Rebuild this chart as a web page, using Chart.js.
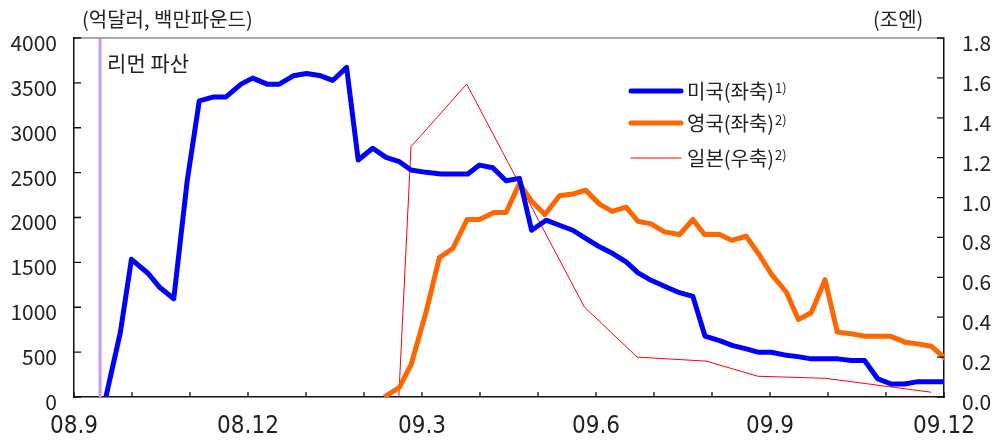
<!DOCTYPE html>
<html>
<head>
<meta charset="utf-8">
<script src="https://cdn.jsdelivr.net/npm/chart.js@4.4.1/dist/chart.umd.min.js"></script>
<style>
  html, body { margin: 0; padding: 0; background: #fff; }
  #wrap { width: 992px; height: 445px; }
</style>
</head>
<body>
<div id="wrap"><canvas id="chart" width="992" height="445"></canvas></div>
<script>
// x values are months counted from 2008.9 (0 = 08.9, 15 = 09.12)
const monthLabels = ['08.9', '08.10', '08.11', '08.12', '09.1', '09.2', '09.3', '09.4',
                     '09.5', '09.6', '09.7', '09.8', '09.9', '09.10', '09.11', '09.12'];
const labelEvery = 3;

// 미국 (억달러, left axis)
const usX = [0.55, 0.80, 0.99, 1.27, 1.47, 1.72, 1.95, 2.16, 2.41, 2.62, 2.88, 3.08, 3.33, 3.54,
             3.78, 4.01, 4.23, 4.46, 4.70, 4.90, 5.15, 5.38, 5.61, 5.81, 6.07, 6.33, 6.56, 6.79,
             6.99, 7.22, 7.45, 7.68, 7.89, 8.14, 8.37, 8.60, 8.83, 9.06, 9.29, 9.52, 9.72, 9.95,
             10.21, 10.44, 10.67, 10.88, 11.13, 11.36, 11.59, 11.79, 12.02, 12.25, 12.48, 12.71,
             12.94, 13.17, 13.40, 13.63, 13.86, 14.09, 14.32, 14.55, 14.78, 15.03];
const usVals = [0, 723, 1534, 1382, 1226, 1095, 2399, 3300, 3344, 3344, 3486, 3553, 3486, 3486,
                3579, 3605, 3583, 3527, 3672, 2640, 2771, 2670, 2622, 2529, 2503, 2484, 2484, 2484,
                2584, 2555, 2410, 2436, 1858, 1970, 1914, 1858, 1765, 1673, 1598, 1505, 1385, 1300,
                1226, 1162, 1121, 678, 629, 573, 536, 499, 499, 469, 450, 425,
                425, 425, 406, 406, 201, 145, 145, 171, 171, 171];

// 영국 (백만파운드, left axis)
const ukX = [5.35, 5.61, 5.81, 6.07, 6.30, 6.53, 6.78, 6.99, 7.24, 7.45, 7.68, 7.89, 8.12, 8.37,
             8.60, 8.82, 9.06, 9.28, 9.52, 9.72, 9.95, 10.18, 10.44, 10.67, 10.87, 11.13, 11.34,
             11.59, 11.82, 12.03, 12.28, 12.49, 12.71, 12.95, 13.16, 13.40, 13.63, 13.86, 14.07,
             14.33, 14.55, 14.78, 15.03];
const ukVals = [0, 108, 357, 946, 1553, 1654, 1978, 1978, 2056, 2056, 2380, 2182, 2034, 2242,
                2261, 2305, 2149, 2068, 2115, 1959, 1929, 1840, 1810, 1978, 1810, 1810, 1746,
                1791, 1579, 1363, 1170, 864, 939, 1307, 723, 704, 678, 678, 678,
                611, 592, 566, 425];

// 일본 (조엔, right axis)
const jpX = [5.60, 5.81, 6.77, 8.80, 9.71, 10.90, 11.79, 12.95, 14.78];
const jpVals = [0, 1.255, 1.569, 0.451, 0.200, 0.180, 0.104, 0.094, 0.024];

const lehmanX = 0.45;
const seriesLabels = ['미국(좌축)', '영국(좌축)', '일본(우축)'];
const seriesNotes = ['1)', '2)', '2)'];

const KR = '"Noto Sans CJK KR", "Noto Sans", sans-serif';
const NARROW = '"Liberation Sans Narrow", "DejaVu Sans Condensed", "Liberation Sans", sans-serif';

function toPoints(xs, ys) {
    return xs.map((x, i) => ({ x: x, y: ys[i] }));
}

// frame, inward ticks, lehman marker, legend and unit titles
const decor = {
    id: 'decor',
    beforeDatasetsDraw(chart) {
        const ctx = chart.ctx;
        const a = chart.chartArea;
        const px = chart.scales.x.getPixelForValue(lehmanX);
        ctx.save();
        ctx.strokeStyle = '#c79df2';
        ctx.lineWidth = 3;
        ctx.beginPath();
        ctx.moveTo(px, a.top);
        ctx.lineTo(px, a.bottom);
        ctx.stroke();
        ctx.fillStyle = '#222';
        ctx.font = '21px ' + KR;
        ctx.textBaseline = 'middle';
        ctx.fillText('리먼 파산', px + 7, a.top + 25);
        ctx.restore();
    },
    afterDraw(chart) {
        const ctx = chart.ctx;
        const a = chart.chartArea;
        const { x, y, y1 } = chart.scales;
        ctx.save();

        ctx.strokeStyle = '#8c8c8c';
        ctx.lineWidth = 1.5;
        ctx.beginPath();
        ctx.moveTo(a.left, a.top);
        ctx.lineTo(a.right, a.top);
        ctx.stroke();

        ctx.strokeStyle = '#111';
        ctx.lineWidth = 1.3;
        ctx.beginPath();
        y.ticks.forEach(t => {
            const p = y.getPixelForValue(t.value);
            ctx.moveTo(a.left, p);
            ctx.lineTo(a.left + 7, p);
        });
        y1.ticks.forEach(t => {
            const p = y1.getPixelForValue(t.value);
            ctx.moveTo(a.right, p);
            ctx.lineTo(a.right - 7, p);
        });
        x.ticks.forEach(t => {
            const p = x.getPixelForValue(t.value);
            ctx.moveTo(p, a.bottom);
            ctx.lineTo(p, a.bottom - 5);
        });
        ctx.stroke();

        // unit titles
        ctx.fillStyle = '#222';
        ctx.font = '20px ' + KR;
        ctx.textBaseline = 'middle';
        ctx.textAlign = 'left';
        ctx.fillText('(억달러, 백만파운드)', 82, 19);
        ctx.fillText('(조엔)', 873, 19);

        // legend
        const rowsY = [91, 123, 158];
        chart.data.datasets.forEach((ds, i) => {
            const ly = rowsY[i];
            ctx.strokeStyle = ds.borderColor;
            ctx.lineWidth = ds.borderWidth;
            ctx.lineCap = 'round';
            ctx.beginPath();
            ctx.moveTo(631, ly);
            ctx.lineTo(681, ly);
            ctx.stroke();
            ctx.fillStyle = '#222';
            ctx.font = '20px ' + KR;
            ctx.fillText(ds.label, 687, ly);
            const w = ctx.measureText(ds.label).width;
            ctx.font = '13px ' + KR;
            ctx.fillText(seriesNotes[i], 687 + w + 1, ly - 3);
        });
        ctx.restore();
    }
};

new Chart(document.getElementById('chart'), {
    type: 'line',
    data: {
        datasets: [
            {
                label: seriesLabels[0],
                data: toPoints(usX, usVals),
                borderColor: '#0000ff',
                borderWidth: 5,
                yAxisID: 'y'
            },
            {
                label: seriesLabels[1],
                data: toPoints(ukX, ukVals),
                borderColor: '#ff6600',
                borderWidth: 5,
                yAxisID: 'y'
            },
            {
                label: seriesLabels[2],
                data: toPoints(jpX, jpVals),
                borderColor: '#ff0000',
                borderWidth: 1,
                yAxisID: 'y1'
            }
        ]
    },
    options: {
        responsive: false,
        devicePixelRatio: 1,
        animation: false,
        layout: { padding: { top: 38, left: 0, right: 0, bottom: 0 } },
        elements: {
            point: { radius: 0 },
            line: { tension: 0, borderJoinStyle: 'round' }
        },
        plugins: {
            legend: { display: false },
            tooltip: { enabled: false }
        },
        scales: {
            x: {
                type: 'linear',
                min: 0,
                max: 15,
                grid: { display: false, drawTicks: false },
                border: { display: true, color: '#111', width: 1.5 },
                ticks: {
                    stepSize: 1,
                    autoSkip: false,
                    maxRotation: 0,
                    padding: 15,
                    color: '#222',
                    font: { family: NARROW, size: 24 },
                    callback: v => (v % labelEvery === 0 ? monthLabels[v] : '')
                },
                afterFit: s => { s.height = 48; }
            },
            y: {
                position: 'left',
                min: 0,
                max: 4000,
                grid: { display: false, drawTicks: false },
                border: { display: true, color: '#111', width: 1.5 },
                ticks: {
                    stepSize: 500,
                    padding: 17,
                    labelOffset: 5,
                    color: '#222',
                    font: { family: KR, size: 21 },
                    callback: v => String(v)
                },
                afterFit: s => { s.width = 74; }
            },
            y1: {
                position: 'right',
                min: 0,
                max: 1.8,
                grid: { display: false, drawTicks: false },
                border: { display: true, color: '#111', width: 1.5 },
                ticks: {
                    stepSize: 0.2,
                    padding: 18,
                    labelOffset: 5,
                    color: '#222',
                    font: { family: KR, size: 21 },
                    callback: v => v.toFixed(1)
                },
                afterFit: s => { s.width = 48; }
            }
        }
    },
    plugins: [decor]
});
</script>
</body>
</html>
